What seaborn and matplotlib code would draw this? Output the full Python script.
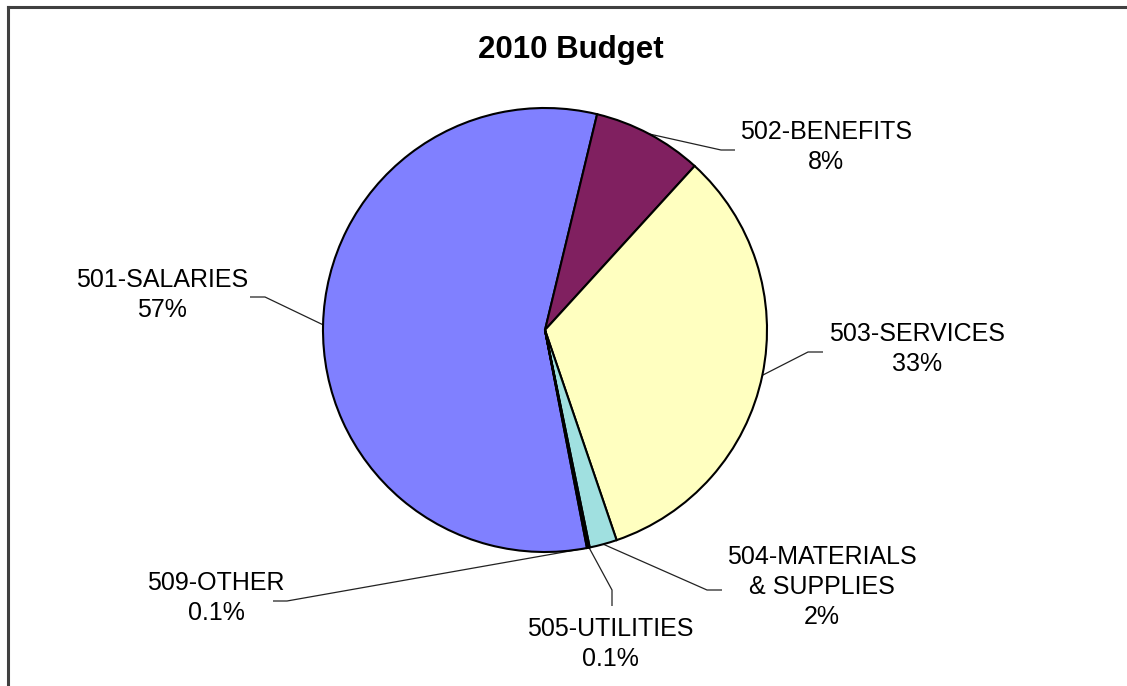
import matplotlib
matplotlib.use("Agg")
import numpy as np
import matplotlib.pyplot as plt
from matplotlib.lines import Line2D
import seaborn as sns

# Budget categories and their share of the total (percent)
categories = ["501-SALARIES", "502-BENEFITS", "503-SERVICES",
              "504-MATERIALS\n& SUPPLIES", "505-UTILITIES", "509-OTHER"]
shares = [56.8, 8.0, 33.0, 2.0, 0.1, 0.1]
slice_colors = ["#8080FF", "#802060", "#FFFFC0", "#A0E0E0", "#600080", "#FF8080"]
title = "2010 Budget"

sns.set_theme(style="white")
plt.rcParams["font.family"] = ["Liberation Sans", "DejaVu Sans"]

W, H = 1127, 686
fig = plt.figure(figsize=(W / 100, H / 100), dpi=100)
fig.patch.set_facecolor("white")
ax = fig.add_axes([0, 0, 1, 1])

cx, cy, r = 545, H - 330, 222
palette = sns.color_palette(slice_colors)
wedges, _ = ax.pie(shares, colors=palette, startangle=-79.1, counterclock=False,
                   center=(cx, cy), radius=r, frame=False,
                   wedgeprops=dict(edgecolor="black", linewidth=1.5))
ax.set_xlim(0, W)
ax.set_ylim(0, H)
ax.set_aspect("equal")
ax.axis("off")

# Label layout: (elbow point, leader end point, label centre) in pixel coords, y from top
layout = [
    ((265, 297), (250, 297), (162, 295)),   # salaries
    ((721, 150), (735, 150), (826, 147)),   # benefits
    ((808, 352), (823, 352), (917, 349)),   # services
    ((707, 590), (722, 590), (822, 587)),   # materials
    ((612, 590), (612, 606), (610, 644)),   # utilities
    ((287, 601), (273, 601), (216, 598)),   # other
]

total = sum(shares)
for w, name, val, (elbow, end, lab) in zip(wedges, categories, shares, layout):
    mid = np.deg2rad((w.theta1 + w.theta2) / 2)
    sx, sy = cx + r * np.cos(mid), cy + r * np.sin(mid)
    xs = [sx, elbow[0], end[0]]
    ys = [sy, H - elbow[1], H - end[1]]
    ax.plot(xs, ys, color="#222222", lw=0.9, solid_capstyle="butt", zorder=0.5)
    pct = val / total * 100
    pct_txt = f"{pct:.0f}%" if pct >= 1 else f"{pct:.1f}%"
    ax.text(lab[0], H - lab[1], f"{name}\n{pct_txt}", ha="center", va="center",
            multialignment="center", fontsize=18, linespacing=1.32, color="black")

ax.text(571, H - 50, title, ha="center", va="center", fontsize=22.5,
        fontweight="bold", color="black")

# Chart-area frame (left and top edges)
fx, fy = 7.5 / W, 1 - 6.5 / H
fig.add_artist(Line2D([fx, fx], [0, fy], color="#404040", lw=2.2,
                      transform=fig.transFigure, solid_capstyle="projecting"))
fig.add_artist(Line2D([fx, 1], [fy, fy], color="#404040", lw=2.2,
                      transform=fig.transFigure, solid_capstyle="projecting"))

fig.savefig("out.png", dpi=100, facecolor="white")
